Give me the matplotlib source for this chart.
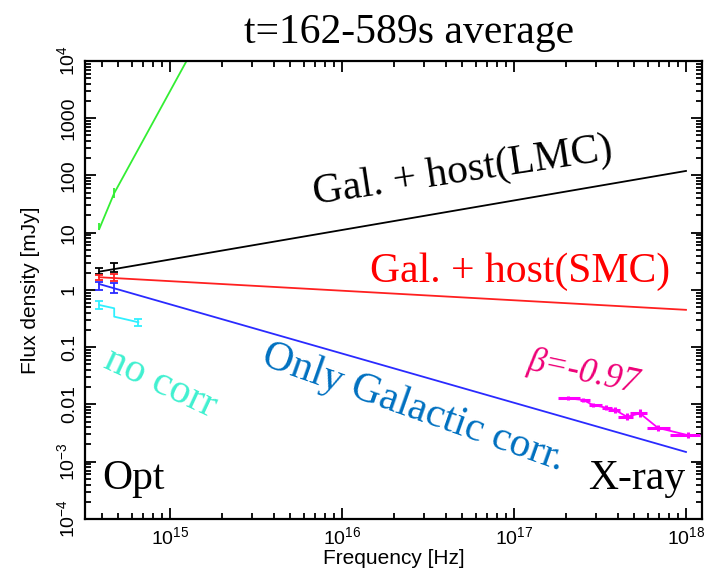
'''
Optical to X-ray SED, t=162-589s average, with different extinction corrections
'''

import numpy as np
import matplotlib
matplotlib.use('Agg')
import matplotlib.pyplot as plt
from matplotlib.ticker import FixedLocator, LogLocator, NullFormatter

plt.rcParams['font.family'] = ['Liberation Sans', 'DejaVu Sans']
plt.rcParams['mathtext.fontset'] = 'custom'
plt.rcParams['mathtext.rm'] = 'Liberation Sans'

# optical bands (Hz)
opt_nu = [3.88e14, 4.74e14]

# Gal. + host(LMC)
lmc_f = [2.09, 2.39]
lmc_lo = [1.91, 2.09]
lmc_hi = [2.42, 2.92]
lmc_line_nu = [3.88e14, 1.0e18]
lmc_line_f = [2.09, 120.]

# Gal. + host(SMC)
smc_f = [1.67, 1.62]
smc_lo = [1.50, 1.44]
smc_hi = [1.83, 1.90]
smc_line_nu = [3.88e14, 1.0e18]
smc_line_f = [1.67, 0.45]

# only Galactic correction
gal_f = [1.27, 1.07]
gal_lo = [1.00, 0.90]
gal_hi = [1.40, 1.32]
gal_line_nu = [3.88e14, 1.0e18]
gal_line_f = [1.27, 1.48e-3]

# green extrapolation
grn_nu = [3.88e14, 4.74e14, 1.31e15]
grn_f = [11.6, 49.0, 1.3e4]
grn_lo = [11.2, 40.5]
grn_hi = [15.0, 60.5]

# no correction
raw_nu = [3.88e14, 4.74e14, 4.74e14, 6.55e14]
raw_f = [0.547, 0.479, 0.342, 0.273]
raw_bar_nu = [3.88e14, 6.55e14]
raw_bar_f = [0.547, 0.273]
raw_bar_lo = [0.466, 0.235]
raw_bar_hi = [0.650, 0.308]

# X-ray spectrum
xr_nu = [2.06e17, 2.52e17, 2.88e17, 3.43e17, 3.87e17, 4.54e17, 5.40e17, 6.87e17, 1.03e18]
xr_nu_lo = [1.80e17, 2.42e17, 2.73e17, 3.25e17, 3.52e17, 4.02e17, 4.72e17, 5.93e17, 8.07e17]
xr_nu_hi = [2.42e17, 2.77e17, 3.25e17, 3.72e17, 4.13e17, 4.92e17, 5.93e17, 8.07e17, 1.20e18]
xr_f = [0.0128, 0.0120, 0.0098, 0.0088, 0.0080, 0.0061, 0.0070, 0.0039, 0.0029]
xr_lo = [0.0118, 0.0110, 0.0089, 0.0080, 0.0070, 0.0053, 0.0060, 0.0035, 0.0026]
xr_hi = [0.0139, 0.0131, 0.0108, 0.0097, 0.0091, 0.0071, 0.0082, 0.0044, 0.0033]

yticks = [1e-4, 1e-3, 0.01, 0.1, 1, 10, 100, 1000, 1e4]
ylabels = [r'$\mathregular{10^{-4}}$', r'$\mathregular{10^{-3}}$', '0.01', '0.1', '1',
           '10', '100', '1000', r'$\mathregular{10^{4}}$']
xticks = [1e15, 1e16, 1e17, 1e18]
xlabels = [r'$\mathregular{10^{15}}$', r'$\mathregular{10^{16}}$',
           r'$\mathregular{10^{17}}$', r'$\mathregular{10^{18}}$']


def yerr(f, lo, hi):
    f = np.array(f)
    return [f - np.array(lo), np.array(hi) - f]


fig = plt.figure(figsize=(7.07, 5.72), dpi=100)
ax = fig.add_axes([0.120, 0.0927, 0.873, 0.8007])
ax.set_xscale('log')
ax.set_yscale('log')
ax.set_xlim(3.2e14, 1.24e18)
ax.set_ylim(1e-4, 1e4)

lw = 1.3
ax.plot(grn_nu, grn_f, color='#33ee33', lw=lw)
ax.errorbar(grn_nu[:2], grn_f[:2], yerr=yerr(grn_f[:2], grn_lo, grn_hi),
            fmt='none', ecolor='#33ee33', elinewidth=lw)

for nu, f, lo, hi, lx, lf, c in [
        (opt_nu, lmc_f, lmc_lo, lmc_hi, lmc_line_nu, lmc_line_f, 'black'),
        (opt_nu, smc_f, smc_lo, smc_hi, smc_line_nu, smc_line_f, '#ff2020'),
        (opt_nu, gal_f, gal_lo, gal_hi, gal_line_nu, gal_line_f, '#2a2aff')]:
    ax.plot(lx, lf, color=c, lw=lw)
    ax.errorbar(nu, f, yerr=yerr(f, lo, hi), fmt='none', ecolor=c,
                elinewidth=lw, capsize=3, capthick=lw)

ax.plot(raw_nu, raw_f, color='#30f0ff', lw=lw)
ax.errorbar(raw_bar_nu, raw_bar_f, yerr=yerr(raw_bar_f, raw_bar_lo, raw_bar_hi),
            fmt='none', ecolor='#30f0ff', elinewidth=lw, capsize=3, capthick=lw)

xr_nu_a = np.array(xr_nu)
ax.plot(xr_nu, xr_f, color='#ff00ff', lw=1.3)
ax.errorbar(xr_nu, xr_f, yerr=yerr(xr_f, xr_lo, xr_hi),
            xerr=[xr_nu_a - np.array(xr_nu_lo), np.array(xr_nu_hi) - xr_nu_a],
            fmt='none', ecolor='#ff00ff', elinewidth=2.2)

# axes styling
for s in ax.spines.values():
    s.set_linewidth(1.6)
ax.xaxis.set_major_locator(FixedLocator(xticks))
ax.set_xticklabels(xlabels)
ax.xaxis.set_minor_locator(LogLocator(base=10, subs=np.arange(2, 10), numticks=20))
ax.xaxis.set_minor_formatter(NullFormatter())
ax.yaxis.set_major_locator(FixedLocator(yticks))
ax.set_yticklabels(ylabels, rotation=90, va='center')
ax.yaxis.set_minor_locator(LogLocator(base=10, subs=np.arange(2, 10), numticks=20))
ax.yaxis.set_minor_formatter(NullFormatter())
ax.tick_params(which='both', direction='in', top=True, right=True, width=1.3,
               labelsize=14)
ax.tick_params(which='major', length=8, pad=5)
ax.tick_params(which='minor', length=4)

ax.set_xlabel('Frequency [Hz]', fontsize=15)
ax.set_ylabel('Flux density [mJy]', fontsize=15)
ax.xaxis.set_label_coords(0.5, -0.066)
ax.yaxis.set_label_coords(-0.073, 0.5)

serif = ['Liberation Serif', 'DejaVu Serif']
ax.text(0.525, 1.02, 't=162-589s average', transform=ax.transAxes,
        family=serif, fontsize=30, ha='center', va='bottom')

kw = dict(transform=ax.transAxes, family=serif, fontsize=30,
          ha='center', va='center', rotation_mode='anchor')
ax.text(0.613, 0.758, 'Gal. + host(LMC)', color='black', rotation=8.5, **kw)
ax.text(0.705, 0.539, 'Gal. + host(SMC)', color='#ff0000', **kw)
ax.text(0.533, 0.242, 'Only Galactic corr.', color='#0070c0', rotation=-19.5, **kw)
ax.text(0.122, 0.297, 'no corr', color='#40f0d0', rotation=-25, **kw)
kw['fontsize'] = 25
ax.text(0.807, 0.319, r'β=-0.97', color='#ee0077', rotation=-12,
        style='italic', **kw)
ax.text(0.028, 0.0655, 'Opt', transform=ax.transAxes, family=serif,
        fontsize=30, ha='left', va='baseline')
ax.text(0.972, 0.0655, 'X-ray', transform=ax.transAxes, family=serif,
        fontsize=30, ha='right', va='baseline')

fig.savefig('out.png', dpi=100)
